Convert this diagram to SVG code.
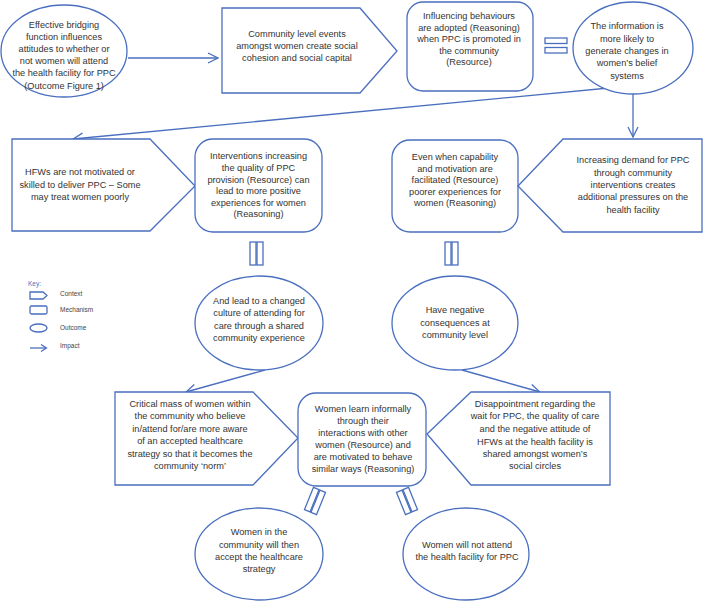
<svg xmlns="http://www.w3.org/2000/svg" width="703" height="601" viewBox="0 0 703 601">
<style>
.s{fill:#fff;stroke:#4a6fbf;stroke-width:1.3}
.c{fill:none;stroke:#4a6fbf;stroke-width:1.3}
.t{font-family:"Liberation Sans",Arial,sans-serif;font-size:9.2px;fill:#333;text-anchor:middle}
.k{font-family:"Liberation Sans",Arial,sans-serif;font-size:6.5px;fill:#444}
</style>
<defs>
<marker id="ah" viewBox="0 0 12 12" refX="11" refY="6" markerWidth="12" markerHeight="12" markerUnits="userSpaceOnUse" orient="auto">
<path d="M1,1 L11,6 L1,11" fill="none" stroke="#4a6fbf" stroke-width="1.3"/>
</marker>
</defs>
<rect width="703" height="601" fill="#fff"/>

<g id="connectors">
<line class="c" x1="128" y1="58" x2="218" y2="58" marker-end="url(#ah)"/>
<line class="c" x1="630" y1="86" x2="73" y2="139" marker-end="url(#ah)"/>
<line class="c" x1="633" y1="94" x2="633" y2="137" marker-end="url(#ah)"/>
<line class="c" x1="265" y1="370" x2="186" y2="392" marker-end="url(#ah)"/>
<line class="c" x1="462" y1="370" x2="540" y2="392" marker-end="url(#ah)"/>
<g id="eq1"><rect class="s" x="545" y="38" width="22" height="5.5"/><rect class="s" x="545" y="47.5" width="22" height="5.5"/></g>
<g id="eq2"><rect class="s" x="250" y="242" width="6" height="23"/><rect class="s" x="257" y="242" width="6" height="23"/></g>
<g id="eq3"><rect class="s" x="445" y="242" width="6" height="23"/><rect class="s" x="452" y="242" width="6" height="23"/></g>
<g id="eq4" transform="translate(315,501) rotate(22)"><rect class="s" x="-6.5" y="-12" width="6" height="24"/><rect class="s" x="0.5" y="-12" width="6" height="24"/></g>
<g id="eq5" transform="translate(407,501) rotate(-22)"><rect class="s" x="-6.5" y="-12" width="6" height="24"/><rect class="s" x="0.5" y="-12" width="6" height="24"/></g>
</g>

<g id="n1">
<ellipse class="s" cx="64" cy="51" rx="63" ry="46"/>
<text class="t"><tspan x="64" y="27.5">Effective bridging</tspan><tspan x="64" y="39.7">function influences</tspan><tspan x="64" y="51.9">attitudes to whether or</tspan><tspan x="64" y="64.1">not women will attend</tspan><tspan x="64" y="76.3">the health facility for PPC</tspan><tspan x="64" y="88.5">(Outcome Figure 1)</tspan></text>
</g>

<g id="n2">
<polygon class="s" points="222,8 360,8 397,51 360,93 222,93"/>
<text class="t"><tspan x="297" y="36.5">Community level events</tspan><tspan x="297" y="48.7">amongst women create social</tspan><tspan x="297" y="60.9">cohesion and social capital</tspan></text>
</g>

<g id="n3">
<rect class="s" x="407" y="2" width="126" height="89" rx="16"/>
<text class="t"><tspan x="469" y="19.3">Influencing behaviours</tspan><tspan x="469" y="30.8">are adopted (Reasoning)</tspan><tspan x="469" y="42.3">when PPC is promoted in</tspan><tspan x="469" y="53.8">the community</tspan><tspan x="469" y="65.3">(Resource)</tspan></text>
</g>

<g id="n4">
<ellipse class="s" cx="633" cy="48" rx="60" ry="46"/>
<text class="t"><tspan x="627" y="29.3">The information is</tspan><tspan x="627" y="41.6">more likely to</tspan><tspan x="627" y="53.9">generate changes in</tspan><tspan x="627" y="66.2">women’s belief</tspan><tspan x="627" y="78.5">systems</tspan></text>
</g>

<g id="n5">
<polygon class="s" points="12,139 150,139 195,186 150,231 12,231"/>
<text class="t"><tspan x="80" y="175">HFWs are not motivated or</tspan><tspan x="80" y="187.5">skilled to deliver PPC – Some</tspan><tspan x="80" y="200">may treat women poorly</tspan></text>
</g>

<g id="n6">
<rect class="s" x="195" y="139" width="127" height="93" rx="18"/>
<text class="t"><tspan x="258.5" y="159.3">Interventions increasing</tspan><tspan x="258.5" y="170.9">the quality of PPC</tspan><tspan x="258.5" y="182.5">provision (Resource) can</tspan><tspan x="258.5" y="194.1">lead to more positive</tspan><tspan x="258.5" y="205.7">experiences for women</tspan><tspan x="258.5" y="217.3">(Reasoning)</tspan></text>
</g>

<g id="n7">
<rect class="s" x="392" y="140" width="126" height="92" rx="18"/>
<text class="t"><tspan x="455" y="160">Even when capability</tspan><tspan x="455" y="171.6">and motivation are</tspan><tspan x="455" y="183.2">facilitated (Resource)</tspan><tspan x="455" y="194.8">poorer experiences for</tspan><tspan x="455" y="206.4">women (Reasoning)</tspan></text>
</g>

<g id="n8">
<polygon class="s" points="518,186 563,139 702,139 702,232 563,232"/>
<text class="t"><tspan x="633" y="163.3">Increasing demand for PPC</tspan><tspan x="633" y="175.6">through community</tspan><tspan x="633" y="187.9">interventions creates</tspan><tspan x="633" y="200.2">additional pressures on the</tspan><tspan x="633" y="212.5">health facility</tspan></text>
</g>

<g id="key">
<text class="k" x="28" y="286" style="fill:#4a6fbf">Key:</text>
<polygon class="s" points="30,292 43,292 47,295.5 43,299 30,299"/>
<text class="k" x="60" y="295.5">Context</text>
<rect class="s" x="30" y="306" width="17" height="8" rx="1.5"/>
<text class="k" x="60" y="312">Mechanism</text>
<ellipse class="s" cx="38.5" cy="328" rx="8.5" ry="4"/>
<text class="k" x="60" y="330">Outcome</text>
<line class="c" x1="30" y1="348" x2="46" y2="348"/>
<path class="c" d="M41,344.5 L46.5,348 L41,351.5"/>
<text class="k" x="60" y="347.5">Impact</text>
</g>

<g id="n9">
<ellipse class="s" cx="259" cy="323" rx="64" ry="47"/>
<text class="t"><tspan x="259" y="303.5">And lead to a changed</tspan><tspan x="259" y="316">culture of attending for</tspan><tspan x="259" y="328.5">care through a shared</tspan><tspan x="259" y="341">community experience</tspan></text>
</g>

<g id="n10">
<ellipse class="s" cx="455" cy="323" rx="63" ry="47"/>
<text class="t"><tspan x="455" y="313.2">Have negative</tspan><tspan x="455" y="325.7">consequences at</tspan><tspan x="455" y="338.2">community level</tspan></text>
</g>

<g id="n11">
<polygon class="s" points="115,392 253,392 298,438 253,485 115,485"/>
<text class="t"><tspan x="190" y="406.5">Critical mass of women within</tspan><tspan x="190" y="419">the community who believe</tspan><tspan x="190" y="431.5">in/attend for/are more aware</tspan><tspan x="190" y="444">of an accepted healthcare</tspan><tspan x="190" y="456.5">strategy so that it becomes the</tspan><tspan x="190" y="468.5">community ‘norm’</tspan></text>
</g>

<g id="n12">
<rect class="s" x="298" y="393" width="128" height="93" rx="18"/>
<text class="t"><tspan x="363" y="411.5">Women learn informally</tspan><tspan x="363" y="423.5">through their</tspan><tspan x="363" y="435.5">interactions with other</tspan><tspan x="363" y="447.5">women (Resource) and</tspan><tspan x="363" y="459.5">are motivated to behave</tspan><tspan x="363" y="471.5">similar ways (Reasoning)</tspan></text>
</g>

<g id="n13">
<polygon class="s" points="427,434 471,392 610,392 610,485 471,485"/>
<text class="t"><tspan x="535" y="406.5">Disappointment regarding the</tspan><tspan x="535" y="419">wait for PPC, the quality of care</tspan><tspan x="535" y="431.5">and the negative attitude of</tspan><tspan x="535" y="444.5">HFWs at the health facility is</tspan><tspan x="535" y="457">shared amongst women’s</tspan><tspan x="535" y="469">social circles</tspan></text>
</g>

<g id="n14">
<ellipse class="s" cx="259" cy="554" rx="64" ry="46"/>
<text class="t"><tspan x="259" y="535">Women in the</tspan><tspan x="259" y="547.5">community will then</tspan><tspan x="259" y="560">accept the healthcare</tspan><tspan x="259" y="572.3">strategy</tspan></text>
</g>

<g id="n15">
<ellipse class="s" cx="466" cy="554" rx="63" ry="46"/>
<text class="t"><tspan x="467" y="547.5">Women will not attend</tspan><tspan x="467" y="560">the health facility for PPC</tspan></text>
</g>
</svg>
